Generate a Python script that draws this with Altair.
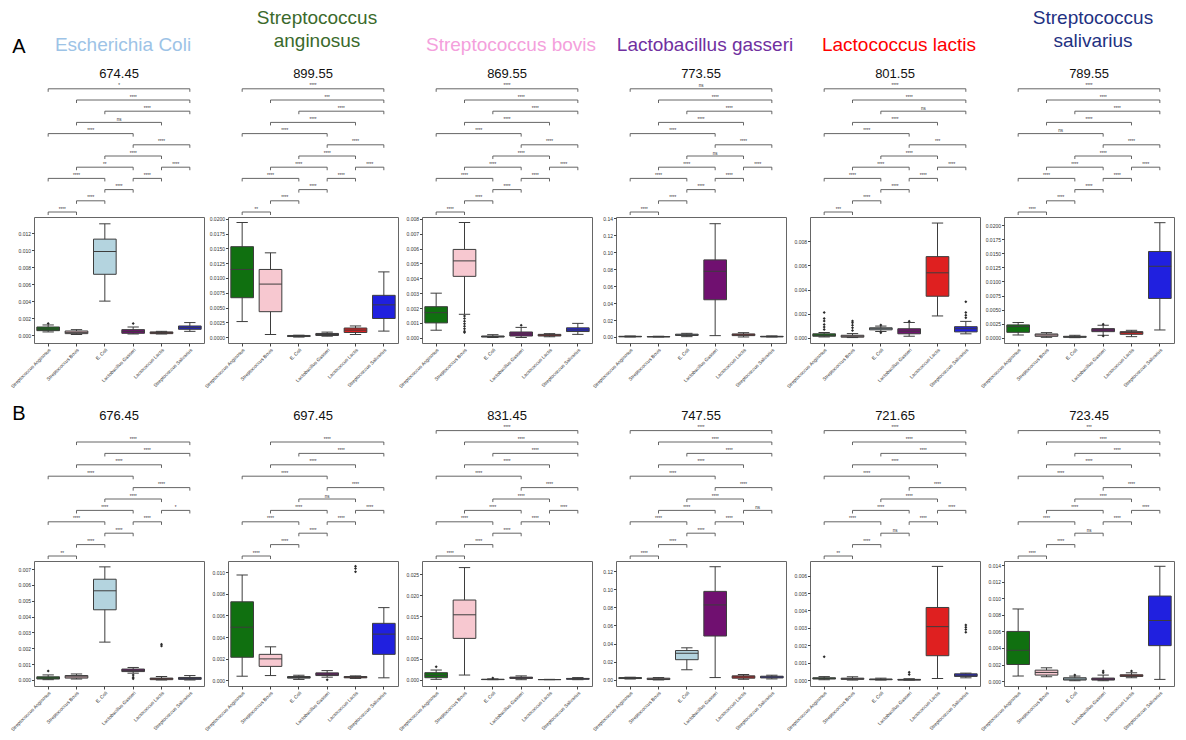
import altair as alt
import pandas as pd

FONT = "Liberation Sans, Arial, sans-serif"

CATS = ["Streptococcus Anginosus", "Streptococcus Bovis", "E. Coli",
        "Lactobacillus Gasseri", "Lactococcus Lactis", "Streptococcus Salivarius"]
BOX_COLORS = ["#107010", "#F7C8D0", "#B4D4DF", "#701070", "#DF2020", "#2020DF"]
LINE = "#3d3d3d"

SPECIES = ["Escherichia Coli", "Streptococcus\nanginosus", "Streptococcus bovis",
           "Lactobacillus gasseri", "Lactococcus lactis", "Streptococcus\nsalivarius"]
SPECIES_COLORS = ["#9DC3E6", "#3B6A2C", "#F4A0DC", "#7030A0", "#FF0000", "#1F3282"]
NUMBERS_A = ["674.45", "899.55", "869.55", "773.55", "801.55", "789.55"]
NUMBERS_B = ["676.45", "697.45", "831.45", "747.55", "721.65", "723.45"]

# significance comparisons (category index pairs) and their stacking level
PAIR_START = [0, 1, 2, 1, 0, 3, 2, 1, 4, 0, 3, 2, 1, 0]
PAIR_END = [5, 5, 5, 4, 3, 5, 4, 3, 5, 2, 4, 3, 2, 1]
PAIR_LEVEL = [11, 10, 9, 8, 7, 6, 5, 4, 4, 3, 3, 2, 1, 0]

S = "****"
SIG_A1 = ["*", S, S, "ns", S, S, S, "**", S, S, S, S, S, S]
SIG_A2 = [S, "***", S, S, S, S, S, S, S, S, S, S, S, "**"]
SIG_A3 = [S, S, S, S, S, S, S, S, S, S, S, S, S, S]
SIG_A4 = ["ns", S, S, S, S, S, "ns", S, S, S, S, S, S, S]
SIG_A5 = [S, S, "ns", S, S, "***", S, S, S, S, S, S, S, "***"]
SIG_A6 = [S, S, S, S, "ns", S, S, S, S, S, S, S, S, S]
SIG_B1 = [None, S, S, S, S, S, S, S, "*", S, S, S, S, "**"]
SIG_B2 = [None, S, S, S, S, S, "ns", S, S, S, S, S, S, S]
SIG_B3 = [S, S, S, S, S, S, S, S, S, S, S, S, S, S]
SIG_B4 = [S, S, S, S, S, S, S, S, "ns", S, S, S, S, S]
SIG_B5 = [S, S, S, S, S, S, S, S, S, S, S, "ns", S, "**"]
SIG_B6 = ["***", S, S, S, S, S, S, S, S, S, S, "ns", S, S]

# box statistics per category: (whisker low, q1, median, q3, whisker high)
A1_STATS = [(0.0004, 0.00055, 0.00075, 0.00098, 0.00122), (0.0001, 0.0002, 0.00035, 0.00051, 0.00067),
            (0.00402, 0.00717, 0.00985, 0.0113, 0.0131), (0.00016, 0.00024, 0.00047, 0.00067, 0.00098),
            (0.00016, 0.0002, 0.00032, 0.0004, 0.00047), (0.00047, 0.00071, 0.0009, 0.0011, 0.0015)]
A1_OUT = {0: [0.00138], 3: [0.00138]}
A2_STATS = [(0.00264, 0.00667, 0.01144, 0.01529, 0.01937), (0.00046, 0.00431, 0.00897, 0.01144, 0.01425),
            (0.00002, 0.00011, 0.0002, 0.00029, 0.00034), (0.00017, 0.00029, 0.00046, 0.00063, 0.00086),
            (0.00046, 0.0008, 0.0012, 0.00155, 0.0019), (0.00103, 0.00316, 0.00546, 0.00707, 0.01103)]
A2_OUT = {}
A3_STATS = [(0.00051, 0.001, 0.00169, 0.00209, 0.003), (0.00158, 0.00413, 0.00517, 0.00594, 0.00775),
            (0.00002, 0.00005, 0.00009, 0.00012, 0.00021), (0.00002, 0.00012, 0.00026, 0.00039, 0.0007),
            (0.00007, 0.00012, 0.00018, 0.00023, 0.00028), (0.00023, 0.00042, 0.00053, 0.00067, 0.00097)]
A3_OUT = {1: [0.00146, 0.0013, 0.00111, 0.00095, 0.00077, 0.0006, 0.00044, 0.00035], 3: [0.00084]}
A4_STATS = [(0.0, 0.0002, 0.0005, 0.0008, 0.0012), (0.0, 0.0001, 0.0003, 0.0005, 0.0009),
            (0.0004, 0.0018, 0.0025, 0.0033, 0.0043), (0.0016, 0.0439, 0.0775, 0.0909, 0.1336),
            (0.0, 0.0016, 0.0026, 0.0036, 0.0051), (0.0, 0.0002, 0.0004, 0.0008, 0.0013)]
A4_OUT = {}
A5_STATS = [(0.00008, 0.00014, 0.00022, 0.00034, 0.00045), (0.00003, 0.00006, 0.00014, 0.00022, 0.00036),
            (0.00053, 0.00067, 0.00076, 0.00084, 0.00098), (0.00014, 0.00034, 0.00056, 0.00076, 0.00128),
            (0.00182, 0.00345, 0.00539, 0.00673, 0.00951), (0.00034, 0.0005, 0.00076, 0.00093, 0.00137)]
A5_OUT = {0: [0.0007, 0.0009, 0.00112, 0.0014, 0.0016, 0.0021], 1: [0.00062, 0.00084, 0.00104, 0.00126, 0.0014],
          2: [0.00107, 0.00042], 3: [0.00138], 5: [0.00168, 0.00188, 0.0021, 0.003]}
A6_STATS = [(0.00048, 0.00095, 0.00197, 0.00227, 0.00269), (0.00006, 0.00024, 0.00048, 0.00066, 0.0009),
            (0.0, 0.00006, 0.00015, 0.00024, 0.00042), (0.00042, 0.00107, 0.00137, 0.00161, 0.00221),
            (0.00018, 0.0006, 0.0009, 0.00107, 0.00131), (0.00137, 0.00698, 0.01271, 0.01534, 0.02047)]
A6_OUT = {3: [0.0024, 0.0003]}
B1_STATS = [(0.00002, 0.00006, 0.00012, 0.0002, 0.00032), (0.00006, 0.00012, 0.0002, 0.00028, 0.00038),
            (0.00239, 0.00443, 0.00563, 0.00636, 0.00714), (0.00043, 0.00053, 0.00061, 0.00069, 0.00079),
            (0.0, 0.00002, 0.00008, 0.00012, 0.00022), (0.0, 0.00004, 0.0001, 0.00016, 0.00028)]
B1_OUT = {0: [0.00057], 3: [0.00032, 0.00018, 0.00008], 4: [0.00225, 0.00215]}
B2_STATS = [(0.00036, 0.00212, 0.00491, 0.00727, 0.00976), (0.00042, 0.00127, 0.00197, 0.00239, 0.00309),
            (0.00006, 0.00018, 0.00024, 0.00033, 0.00045), (0.00027, 0.00042, 0.00055, 0.00067, 0.00088),
            (0.00015, 0.00021, 0.00027, 0.00033, 0.00039), (0.00021, 0.00239, 0.00427, 0.00527, 0.00673)]
B2_OUT = {3: [0.00003], 4: [0.01057, 0.01036, 0.01006]}
B3_STATS = [(0.00008, 0.00047, 0.00103, 0.00166, 0.00229), (0.0011, 0.0098, 0.0154, 0.0189, 0.0266),
            (0.0, 0.00002, 0.00005, 0.0001, 0.0002), (0.0, 0.0003, 0.00045, 0.0006, 0.0009),
            (0.0, 0.00001, 0.00002, 0.00004, 0.00008), (0.0, 0.0001, 0.0002, 0.0003, 0.0005)]
B3_OUT = {0: [0.00308], 2: [0.0004]}
B4_STATS = [(0.001, 0.0015, 0.002, 0.0026, 0.003), (0.0, 0.0004, 0.0011, 0.0019, 0.0026),
            (0.0112, 0.0223, 0.0294, 0.0324, 0.0354), (0.0026, 0.0484, 0.0827, 0.0976, 0.1248),
            (0.0007, 0.0019, 0.0033, 0.0045, 0.006), (0.0011, 0.0022, 0.0032, 0.0041, 0.0052)]
B4_OUT = {}
B5_STATS = [(0.00002, 0.00006, 0.0001, 0.00013, 0.0002), (0.0, 0.00004, 0.00008, 0.00011, 0.00019),
            (0.0, 0.00002, 0.00004, 0.00006, 0.00011), (0.0, 0.0, 0.00002, 0.00004, 0.00008),
            (0.00009, 0.0014, 0.00307, 0.00417, 0.00653), (0.00013, 0.00021, 0.00028, 0.00036, 0.0004)]
B5_OUT = {0: [0.00134], 3: [0.00045, 0.00032], 5: [0.00316, 0.00303, 0.0029, 0.00275]}
B6_STATS = [(0.0006, 0.002, 0.00372, 0.006, 0.00872), (0.00052, 0.00072, 0.00104, 0.00132, 0.0016),
            (0.00004, 0.00012, 0.00024, 0.0004, 0.0006), (0.00004, 0.00012, 0.00024, 0.00036, 0.00072),
            (0.0004, 0.00056, 0.00064, 0.00076, 0.001), (0.0002, 0.00428, 0.00732, 0.01028, 0.01388)]
B6_OUT = {2: [0.00072], 3: [0.0012, 0.001], 4: [0.0012]}

# y-axis ranges and tick labels
A_DOMAINS = [[-0.0009, 0.0139], [-0.00098, 0.0203], [-0.00035, 0.00812],
             [-0.0071, 0.1415], [-0.00042, 0.01001], [-0.00095, 0.02148]]
B_DOMAINS = [[-0.00038, 0.00751], [-0.00055, 0.01106], [-0.0015, 0.02816],
             [-0.0067, 0.1311], [-0.00034, 0.00684], [-0.0006, 0.01452]]
A_TICKS = [[0, 0.002, 0.004, 0.006, 0.008, 0.010, 0.012],
           [0, 0.0025, 0.005, 0.0075, 0.01, 0.0125, 0.015, 0.0175, 0.02],
           [0, 0.001, 0.002, 0.003, 0.004, 0.005, 0.006, 0.007, 0.008],
           [0, 0.02, 0.04, 0.06, 0.08, 0.10, 0.12, 0.14],
           [0, 0.002, 0.004, 0.006, 0.008],
           [0, 0.0025, 0.005, 0.0075, 0.01, 0.0125, 0.015, 0.0175, 0.02]]
B_TICKS = [[0, 0.001, 0.002, 0.003, 0.004, 0.005, 0.006, 0.007],
           [0, 0.002, 0.004, 0.006, 0.008, 0.010],
           [0, 0.005, 0.010, 0.015, 0.020, 0.025],
           [0, 0.02, 0.04, 0.06, 0.08, 0.10, 0.12],
           [0, 0.001, 0.002, 0.003, 0.004, 0.005, 0.006],
           [0, 0.002, 0.004, 0.006, 0.008, 0.010, 0.012, 0.014]]
A_FMT = [".3f", ".4f", ".3f", ".2f", ".3f", ".4f"]
B_FMT = [".3f", ".3f", ".3f", ".2f", ".3f", ".3f"]

W = 170
A_BR_H, A_BOX_H = 209, 126
B_GAP = 61
B_BR_H, B_BOX_H = 157 + B_GAP, 125
STEP_A, STEP_B = 11.2, 11.4


def bracket_chart(sig, height, step, number, num_y, species=None, sp_color=None, sp_y=None,
                  letter=None, letter_y=None):
    rows = [dict(a=PAIR_START[i], b=PAIR_END[i], lev=PAIR_LEVEL[i], lab=sig[i])
            for i in range(len(sig)) if sig[i] is not None]
    df = pd.DataFrame(rows)
    lo = -5.0 / step
    xs = alt.Scale(domain=[-0.5, 5.5], nice=False, zero=False)
    ys = alt.Scale(domain=[lo, lo + height / step], nice=False, zero=False)
    yv = alt.Y("lev:Q", scale=ys, axis=None)
    base = alt.Chart(df)
    hline = base.mark_rule(color="#555", strokeWidth=0.9).encode(
        x=alt.X("a:Q", scale=xs, axis=None), x2="b:Q", y=yv)
    ends = base.transform_fold(["a", "b"], as_=["side", "xe"]).transform_calculate(
        ylo="datum.lev - 0.27").mark_rule(color="#555", strokeWidth=0.9).encode(
        x=alt.X("xe:Q", scale=xs, axis=None), y=yv, y2="ylo:Q")
    labs = base.transform_calculate(mid="(datum.a + datum.b) / 2").mark_text(
        fontSize=4.5, font=FONT, color="#333", baseline="alphabetic", dy=-1.5).encode(
        x=alt.X("mid:Q", scale=xs, axis=None), y=yv, text="lab:N")
    layers = [hline, ends, labs]
    layers.append(alt.Chart(pd.DataFrame({"t": [number]})).mark_text(
        fontSize=13, font=FONT, color="#111", baseline="alphabetic").encode(
        x=alt.value(W / 2), y=alt.value(num_y), text="t:N"))
    if species is not None:
        layers.append(alt.Chart(pd.DataFrame({"t": [species]})).mark_text(
            fontSize=19, font=FONT, color=sp_color, baseline="alphabetic",
            lineBreak="\n", lineHeight=23).encode(
            x=alt.value(W / 2 + 4), y=alt.value(sp_y), text="t:N"))
    if letter is not None:
        layers.append(alt.Chart(pd.DataFrame({"t": [letter]})).mark_text(
            fontSize=20, font=FONT, color="#000", baseline="alphabetic").encode(
            x=alt.value(-15), y=alt.value(letter_y), text="t:N"))
    return alt.layer(*layers).properties(width=W, height=height)


def box_chart(stats, outs, dom, ticks, fmt, height):
    df = pd.DataFrame({
        "cat": CATS,
        "lo": [s[0] for s in stats], "q1": [s[1] for s in stats], "med": [s[2] for s in stats],
        "q3": [s[3] for s in stats], "hi": [s[4] for s in stats]})
    od = pd.DataFrame({
        "cat": [CATS[k] for k, vals in outs.items() for _ in vals],
        "v": [x for k, vals in outs.items() for x in vals]})
    xenc = alt.X("cat:N", sort=CATS,
                 scale=alt.Scale(domain=CATS, paddingInner=0, paddingOuter=0),
                 axis=alt.Axis(title=None, labelAngle=-45, labelFontSize=4.8, labelFont=FONT,
                               labelColor="#333", tickSize=3, tickColor="#444", domain=False,
                               labelPadding=1, labelOverlap=False))
    ys = alt.Scale(domain=dom, nice=False, zero=False)
    ax = alt.Axis(title=None, values=ticks, format=fmt, labelFontSize=5, labelFont=FONT,
                  labelColor="#333", tickSize=2.5, tickColor="#444", domain=False, grid=False,
                  labelPadding=1)

    def Y(f):
        return alt.Y(f, scale=ys, axis=ax)

    base = alt.Chart(df)
    band = W / 6.0
    whisk = base.mark_rule(color=LINE, strokeWidth=1).encode(x=xenc, y=Y("lo:Q"), y2="hi:Q")
    box = base.mark_bar(width=alt.RelativeBandSize(0.8), stroke=LINE, strokeWidth=1, opacity=1).encode(
        x=xenc, y=Y("q1:Q"), y2="q3:Q",
        color=alt.Color("cat:N", scale=alt.Scale(domain=CATS, range=BOX_COLORS), legend=None))
    med = base.mark_tick(color=LINE, thickness=1, size=0.8 * band, opacity=1).encode(x=xenc, y=Y("med:Q"))
    cap_lo = base.mark_tick(color=LINE, thickness=1, size=0.4 * band, opacity=1).encode(x=xenc, y=Y("lo:Q"))
    cap_hi = base.mark_tick(color=LINE, thickness=1, size=0.4 * band, opacity=1).encode(x=xenc, y=Y("hi:Q"))
    pts = alt.Chart(od).mark_point(shape="diamond", filled=True, size=9, color="#2a2a2a", opacity=1).encode(
        x=xenc, y=Y("v:Q"))
    return alt.layer(whisk, box, med, cap_lo, cap_hi, pts).properties(
        width=W, height=height, view=alt.ViewBackground(stroke="#666", strokeWidth=1))


A_STATS = [A1_STATS, A2_STATS, A3_STATS, A4_STATS, A5_STATS, A6_STATS]
A_OUT = [A1_OUT, A2_OUT, A3_OUT, A4_OUT, A5_OUT, A6_OUT]
A_SIG = [SIG_A1, SIG_A2, SIG_A3, SIG_A4, SIG_A5, SIG_A6]
B_STATS = [B1_STATS, B2_STATS, B3_STATS, B4_STATS, B5_STATS, B6_STATS]
B_OUT = [B1_OUT, B2_OUT, B3_OUT, B4_OUT, B5_OUT, B6_OUT]
B_SIG = [SIG_B1, SIG_B2, SIG_B3, SIG_B4, SIG_B5, SIG_B6]

cells = []
for i in range(6):
    two_line = "\n" in SPECIES[i]
    cells.append(bracket_chart(A_SIG[i], A_BR_H, STEP_A, NUMBERS_A[i], 70,
                               species=SPECIES[i], sp_color=SPECIES_COLORS[i],
                               sp_y=16 if two_line else 43,
                               letter="A" if i == 0 else None, letter_y=45))
for i in range(6):
    cells.append(box_chart(A_STATS[i], A_OUT[i], A_DOMAINS[i], A_TICKS[i], A_FMT[i], A_BOX_H))
for i in range(6):
    cells.append(bracket_chart(B_SIG[i], B_BR_H, STEP_B, NUMBERS_B[i], B_GAP + 16,
                               letter="B" if i == 0 else None, letter_y=B_GAP + 16))
for i in range(6):
    cells.append(box_chart(B_STATS[i], B_OUT[i], B_DOMAINS[i], B_TICKS[i], B_FMT[i], B_BOX_H))

chart = alt.concat(*cells, columns=6, spacing={"row": 0, "column": 24}, bounds="flush").properties(
    padding={"left": 0, "top": 0, "right": 0, "bottom": 0}
).configure(font=FONT).configure_view(stroke=None)

chart.save("out.html", embed_options={"renderer": "svg", "actions": False})
